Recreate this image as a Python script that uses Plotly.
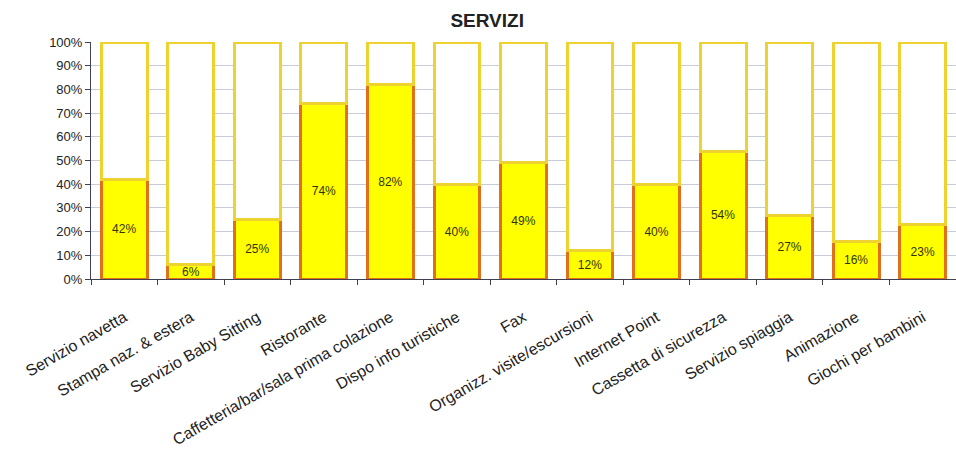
import plotly.graph_objects as go

# Servizi e quota di utilizzo (percentuali)
categories = [
    "Servizio navetta",
    "Stampa naz. & estera",
    "Servizio Baby Sitting",
    "Ristorante",
    "Caffetteria/bar/sala prima colazione",
    "Dispo info turistiche",
    "Fax",
    "Organizz. visite/escursioni",
    "Internet Point",
    "Cassetta di sicurezza",
    "Servizio spiaggia",
    "Animazione",
    "Giochi per bambini",
]
si_values = [42, 6, 25, 74, 82, 40, 49, 12, 40, 54, 27, 16, 23]
no_values = [100 - v for v in si_values]
y_ticks = list(range(0, 101, 10))
y_tick_labels = [f"{v}%" for v in y_ticks]

FONT = "Liberation Sans, Arial, sans-serif"

fig = go.Figure()

fig.add_trace(go.Bar(
    x=categories,
    y=si_values,
    marker=dict(color="#FFFF00", line=dict(color="#E0701A", width=3)),
    text=[f"{v}%" for v in si_values],
    textposition="inside",
    insidetextanchor="middle",
    textangle=0,
    textfont=dict(family=FONT, size=12, color="#333300"),
    showlegend=False,
    hoverinfo="skip",
))

fig.add_trace(go.Bar(
    x=categories,
    y=no_values,
    marker=dict(color="#FFFFFF", line=dict(color="#EDD230", width=3)),
    showlegend=False,
    hoverinfo="skip",
))

fig.update_layout(
    barmode="stack",
    bargap=0.31,
    width=956,
    height=459,
    margin=dict(l=91, r=0, t=42, b=180),
    paper_bgcolor="white",
    plot_bgcolor="white",
    uniformtext=dict(minsize=11, mode="show"),
    title=dict(
        text="<b>SERVIZI</b>",
        font=dict(family=FONT, size=19, color="#222222"),
        x=0.458, xref="paper", xanchor="center",
        y=0.955, yref="container", yanchor="middle",
    ),
    font=dict(family=FONT, color="#222222"),
)

fig.update_xaxes(
    tickangle=-30,
    tickfont=dict(family=FONT, size=16, color="#222222"),
    ticks="outside",
    tickson="boundaries",
    ticklen=5,
    tickcolor="#404050",
    ticklabelstandoff=22,
    showline=True,
    linecolor="#404050",
    linewidth=1,
    showgrid=False,
)

fig.update_yaxes(
    range=[0, 100],
    tickvals=y_ticks,
    ticktext=y_tick_labels,
    tickfont=dict(family=FONT, size=13, color="#222222"),
    ticks="outside",
    ticklen=5,
    tickcolor="#404050",
    showline=True,
    linecolor="#404060",
    linewidth=1,
    showgrid=True,
    gridcolor="#C8CCDA",
    gridwidth=1,
    zeroline=False,
)

fig.write_html("out.html")
